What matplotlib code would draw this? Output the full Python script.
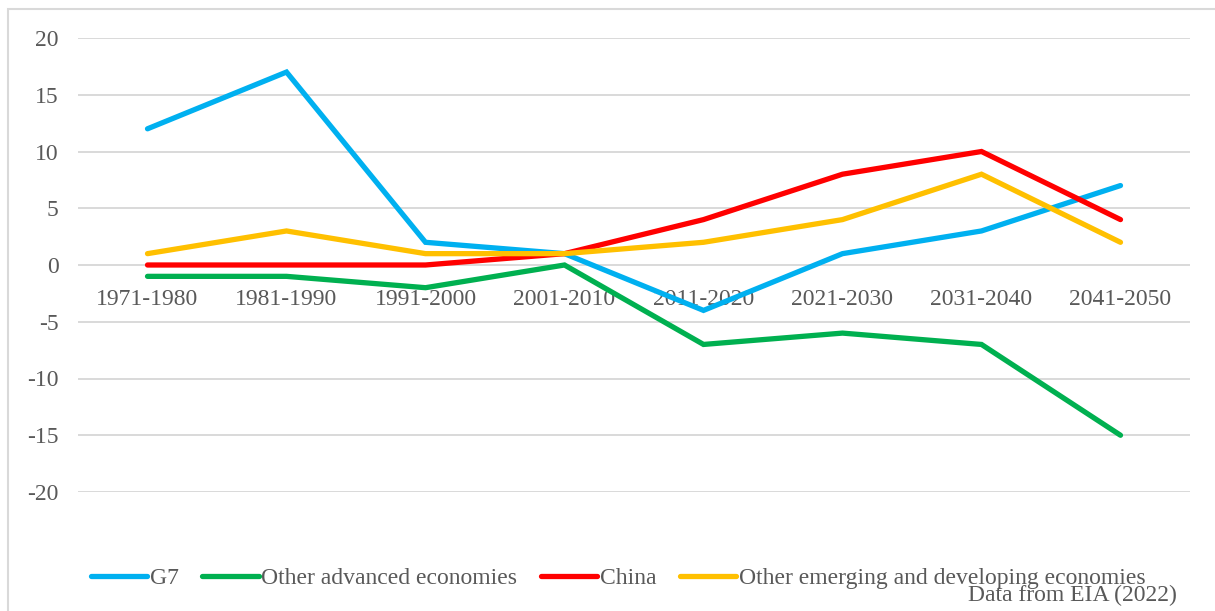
import matplotlib
matplotlib.use("Agg")
import matplotlib.pyplot as plt
from matplotlib.patches import Rectangle

# Data
periods = ['1971-1980', '1981-1990', '1991-2000', '2001-2010',
           '2011-2020', '2021-2030', '2031-2040', '2041-2050']
g7 = [12, 17, 2, 1, -4, 1, 3, 7]
other_advanced = [-1, -1, -2, 0, -7, -6, -7, -15]
china = [0, 0, 0, 1, 4, 8, 10, 4]
other_emerging = [1, 3, 1, 1, 2, 4, 8, 2]

series = [
    ('G7', g7, '#00B0F0'),
    ('Other advanced economies', other_advanced, '#00B050'),
    ('China', china, '#FF0000'),
    ('Other emerging and developing economies', other_emerging, '#FFC000'),
]

plt.rcParams['font.family'] = ['Liberation Serif', 'DejaVu Serif']
plt.rcParams['axes.unicode_minus'] = False
text_color = '#595959'
fs = 17

fig = plt.figure(figsize=(12.15, 6.11), dpi=100)
ax = fig.add_axes([78 / 1215, 1 - 492 / 611, 1112 / 1215, 454 / 611])

x = list(range(len(periods)))
for name, vals, col in series:
    ax.plot(x, vals, color=col, lw=3.8, label=name, solid_capstyle='round',
            solid_joinstyle='miter', zorder=3)

ax.set_xlim(-0.5, len(periods) - 0.5)
ax.set_ylim(-20, 20)
ax.set_yticks(range(-20, 21, 5))
ax.grid(axis='y', color='#D9D9D9', lw=1.4, zorder=0)
ax.set_axisbelow(True)

for s in ['top', 'right', 'left']:
    ax.spines[s].set_visible(False)
ax.spines['bottom'].set_position(('data', 0))
ax.spines['bottom'].set_visible(False)

ax.set_xticks(x)
ax.set_xticklabels(periods)
ax.tick_params(axis='x', length=0, pad=17, labelsize=fs, labelcolor=text_color)
ax.tick_params(axis='y', length=0, pad=14, labelsize=fs, labelcolor=text_color)

fig.legend(loc='center', bbox_to_anchor=(618 / 1215, 1 - 578 / 611), ncol=4,
           frameon=False, fontsize=fs, labelcolor=text_color,
           handlelength=2.4, handletextpad=0.1, columnspacing=1.0,
           borderaxespad=0)

fig.text(1177 / 1215, 1 - 595 / 611, 'Data from EIA (2022)', ha='right',
         va='center', fontsize=fs, color=text_color)

# light border around the chart area
fig.patches.append(Rectangle((8 / 1215, -0.05), 1.2, 1 - 9 / 611 + 0.05,
                             transform=fig.transFigure, fill=False,
                             edgecolor='#D9D9D9', lw=1.5))

fig.savefig('out.png', dpi=100)
